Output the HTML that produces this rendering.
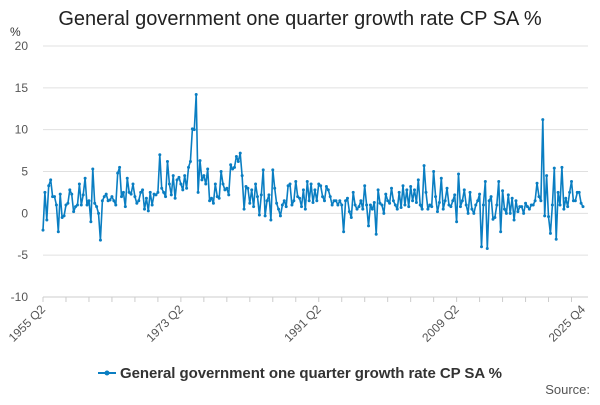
<!DOCTYPE html>
<html><head><meta charset="utf-8"><style>
body{margin:0;background:#fff;font-family:"Liberation Sans",sans-serif;}
svg text{font-family:"Liberation Sans",sans-serif;}
</style></head><body>
<svg id="chart" width="600" height="400">
<text x="300" y="25" text-anchor="middle" font-size="20" fill="#222">General government one quarter growth rate CP SA %</text>
<text x="10" y="36" font-size="12" fill="#333">%</text>
<g id="grid"></g><g id="xaxis"></g><g id="series"></g>
<g>
<line x1="98" y1="373" x2="116" y2="373" stroke="#0a7ec2" stroke-width="2"/>
<circle cx="107" cy="373" r="2.5" fill="#0a7ec2"/>
<text x="120" y="378" font-size="15" font-weight="bold" fill="#333" textLength="382">General government one quarter growth rate CP SA %</text>
</g>
<text x="590" y="394" text-anchor="end" font-size="13" fill="#555">Source:</text>
</svg>
<script>
const yTicks=[20,15,10,5,0,-5,-10];
const xLabels=["1955 Q2","1973 Q2","1991 Q2","2009 Q2","2025 Q4"];
const xLabelIdx=[0,72,144,216,282];
const values=[-2,2.5,-0.8,
3.3,4,2,2, 1,-2.2,2.3,-0.5, -0.3,1,1.2,2.8, 2.3,0.2,0.8,1, 3.5,1,2.2,4.2,
1,1.5,-1,5.3, 1.2,0.8,0,-3.2, 1.5,2,2.3,1.5, 1.6,2,1.5,1, 4.8,5.5,2,2.5,
0.8,4.2,2.5,2.3, 3.5,2,1.2,1.5, 2.5,2.8,0.5,1.8, 0.3,2.5,1,2.3, 2.2,2.5,7,3,
2.5,2,6.2,3.5, 2.2,4.5,1.8,4, 4.3,3.5,2.8,4.5, 3,5.5,6.2,10.1, 10,14.2,2.5,6.3,
4,4.5,3.5,5.3, 1.5,1.8,1.2,3.5, 2,1.8,5,3.5, 2.8,3,2.2,5.8, 5.3,5.5,6.8,6.2,
7.2,4.5,0.5,3.2, 3,1.2,2.8,0.8, 3.5,2,-0.2,2.2, 5.2,-0.3,1.5,2.2, -0.8,5.2,3,1.2,
0.5,-0.3,1,1.5, 0.8,3.3,3.5,1, 1.5,3.8,2,1.8, 0.8,2.8,0.5,3.8, 1.5,3.5,1.3,2.8,
1.5,3.5,3.3,2, 1.5,3.2,2.8,2, 1,1.5,1.5,1, 1.5,1,-2.2,1.5, 1.8,0.2,-0.5,2.5,
1,0.5,0.8,1.5, 0.5,3.3,1,-1.5, 1,0.5,1.3,-2.5, 2.8,1.2,1,0, 2.3,1.5,1.2,3,
1.5,1,0.5,2.5, 0.7,3.3,1,2.8, 0.8,3.2,1.5,2.8, 1.3,4,1,0.5, 5.7,2.5,0.5,1,
0.8,5,2,0.2, 1.3,4.2,0.5,1.5, 3,1,0.8,1.5, 2.2,-1,4.7,0.8, 1.5,2.8,1,0,
2.5,0.5,0,1, 1.5,2.3,-4,1, 3.8,-4.2,1.5,2, -0.7,-0.5,1,3.8, -2.2,2.7,0.5,0,
2.2,0,1.8,-0.8, 1.5,0.2,0.8,0.8, 0,1.2,0.8,0.5, 1,1,1.5,3.6, 2,1.5,11.2,-0.3,
4.5,-0.4,-2.4,1, 5.4,-3.1,2.5,1, 5.5,0.5,1.8,0.8, 2.5,3.8,1.5,1.5, 2.5,2.5,1.2,0.8];
const NS="http://www.w3.org/2000/svg";
const X0=43,X1=583,Y20=46,Ym10=297;
const xs=i=>X0+i*(X1-X0)/(values.length-1);
const ys=v=>Y20+(20-v)*(Ym10-Y20)/30;
function mk(t,a,p){const e=document.createElementNS(NS,t);for(const k in a)e.setAttribute(k,a[k]);p.appendChild(e);return e;}
const grid=document.getElementById('grid');
yTicks.forEach(v=>{
 const l=mk('line',{x1:X0,x2:588,y1:ys(v),y2:ys(v),stroke:v===-10?'#ccc':'#e0e0e0','stroke-width':1},grid);
 
 
 const t=mk('text',{x:28,y:ys(v)+4,'text-anchor':'end','font-size':12,fill:'#555'},grid);
 t.textContent=v;
 
 
});
const xa=document.getElementById('xaxis');
for(let i=0;i<values.length;i+=12){
 const tk=mk('line',{x1:xs(i),x2:xs(i),y1:Ym10,y2:Ym10+5,stroke:'#ccc'},xa);
 
 
}
xLabels.forEach((s,k)=>{
 const x=xs(xLabelIdx[k])+3;
 const t=mk('text',{x:x,y:Ym10+13,'text-anchor':'end','font-size':12,fill:'#555',transform:`rotate(-45 ${x} ${Ym10+13})`},xa);
 t.textContent=s;
 
 
});
const sg=document.getElementById('series');
const path=mk('polyline',{points:values.map((v,i)=>xs(i).toFixed(1)+','+ys(v).toFixed(1)).join(' '),fill:'none',stroke:'#0a7ec2','stroke-width':1.6,'stroke-linejoin':'round'},sg);


values.forEach((v,i)=>{
 const c=mk('circle',{cx:xs(i),cy:ys(v),r:1.5,fill:'#0a7ec2'},sg);
 
 
});
</script>
</body></html>
